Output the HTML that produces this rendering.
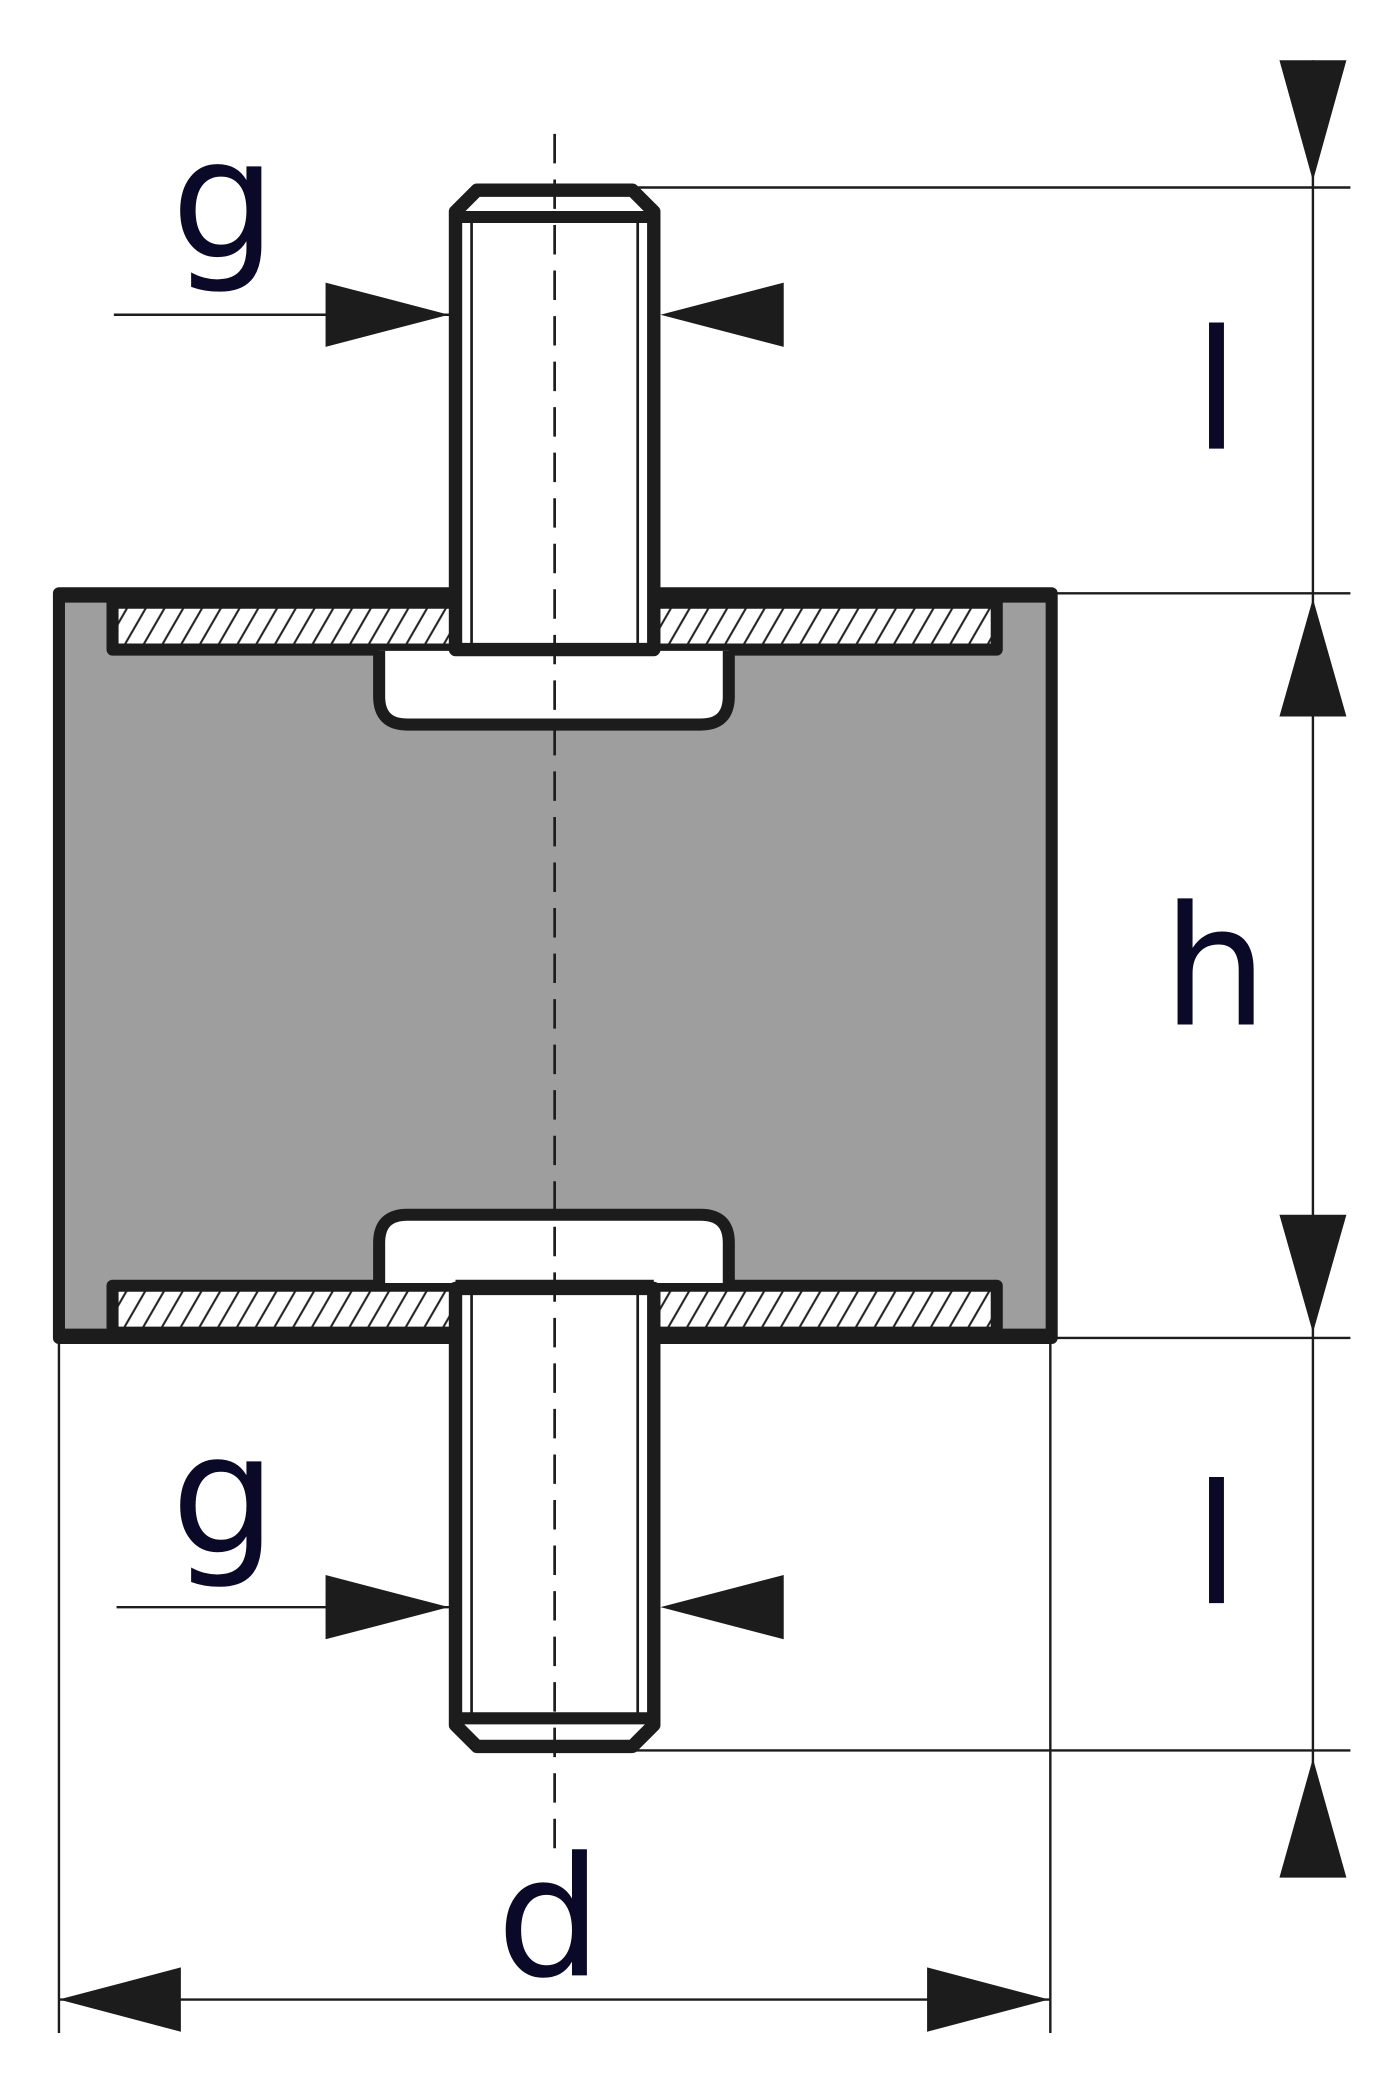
<!DOCTYPE html>
<html><head><meta charset="utf-8"><style>html,body{margin:0;padding:0;background:#fff}svg{display:block}</style></head><body>
<svg width="1400" height="2100" viewBox="0 0 1045 1568" preserveAspectRatio="none" xmlns="http://www.w3.org/2000/svg">
<defs>
<pattern id="h" width="14" height="40" patternUnits="userSpaceOnUse" patternTransform="skewX(-30)">
<rect width="14" height="40" fill="#fff"/><line x1="7" y1="0" x2="7" y2="40" stroke="#222" stroke-width="1.8"/>
</pattern>
</defs>
<rect width="1045" height="1568" fill="#fff"/>
<rect x="44" y="443" width="741" height="556" fill="#9e9e9e" stroke="#1c1c1c" stroke-width="9" stroke-linejoin="round"/>
<rect x="84" y="450" width="660" height="35" fill="url(#h)" stroke="#1c1c1c" stroke-width="9" stroke-linejoin="round"/>
<rect x="84" y="960" width="660" height="35" fill="url(#h)" stroke="#1c1c1c" stroke-width="9" stroke-linejoin="round"/>
<line x1="44" y1="445" x2="785" y2="445" stroke="#1c1c1c" stroke-width="10"/>
<line x1="44" y1="997" x2="785" y2="997" stroke="#1c1c1c" stroke-width="10"/>
<path d="M283 486 V520 Q283 541 304 541 H523 Q544 541 544 520 V486" fill="#fff" stroke="#1c1c1c" stroke-width="9"/>
<path d="M283 958 V928 Q283 907 304 907 H523 Q544 907 544 928 V958" fill="#fff" stroke="#1c1c1c" stroke-width="9"/>
<path d="M340 485 V158 L356 142 H472 L488 158 V485 Z" fill="#fff" stroke="#1c1c1c" stroke-width="10" stroke-linejoin="round"/>
<line x1="340" y1="162" x2="488" y2="162" stroke="#1c1c1c" stroke-width="9"/>
<line x1="352" y1="166" x2="352" y2="481" stroke="#1c1c1c" stroke-width="2"/>
<line x1="476" y1="166" x2="476" y2="481" stroke="#1c1c1c" stroke-width="2"/>
<path d="M340 962 V1288 L356 1304 H472 L488 1288 V962 Z" fill="#fff" stroke="#1c1c1c" stroke-width="10" stroke-linejoin="round"/>
<line x1="340" y1="1283" x2="488" y2="1283" stroke="#1c1c1c" stroke-width="9"/>
<line x1="352" y1="966" x2="352" y2="1279" stroke="#1c1c1c" stroke-width="2"/>
<line x1="476" y1="966" x2="476" y2="1279" stroke="#1c1c1c" stroke-width="2"/>
<line x1="340" y1="485" x2="488" y2="485" stroke="#1c1c1c" stroke-width="9"/>
<line x1="340" y1="960" x2="488" y2="960" stroke="#1c1c1c" stroke-width="9"/>
<line x1="414" y1="100" x2="414" y2="1380" stroke="#1c1c1c" stroke-width="2" stroke-dasharray="22,12"/>
<g stroke="#1c1c1c" stroke-width="1.8">
<line x1="474" y1="140" x2="1008" y2="140"/>
<line x1="786" y1="443" x2="1008" y2="443"/>
<line x1="786" y1="999" x2="1008" y2="999"/>
<line x1="474" y1="1307" x2="1008" y2="1307"/>
<line x1="980" y1="45" x2="980" y2="1400"/>
<line x1="44" y1="1000" x2="44" y2="1518"/>
<line x1="784" y1="1000" x2="784" y2="1518"/>
<line x1="44" y1="1493" x2="784" y2="1493"/>
<line x1="85" y1="235" x2="336" y2="235"/>
<line x1="87" y1="1200" x2="336" y2="1200"/>
</g>
<g fill="#1c1c1c">
<polygon points="955,45 1005,45 980,135"/>
<polygon points="955,535 1005,535 980,447"/>
<polygon points="955,907 1005,907 980,995"/>
<polygon points="955,1402 1005,1402 980,1313"/>
<polygon points="44,1493 135,1469 135,1517"/>
<polygon points="783,1493 692,1469 692,1517"/>
<polygon points="335,235 243,211 243,259"/>
<polygon points="493,235 585,211 585,259"/>
<polygon points="335,1200 243,1176 243,1224"/>
<polygon points="493,1200 585,1176 585,1224"/>
</g>
<g fill="#0a0a28" font-family="'DejaVu Sans','Liberation Sans',sans-serif" font-size="124" text-anchor="middle">
<text x="167" y="192">g</text>
<text x="167" y="1159">g</text>
<text x="908" y="335">l</text>
<text x="908" y="1197">l</text>
<text x="907" y="765">h</text>
<text x="410" y="1475">d</text>
</g>
</svg>
</body></html>
